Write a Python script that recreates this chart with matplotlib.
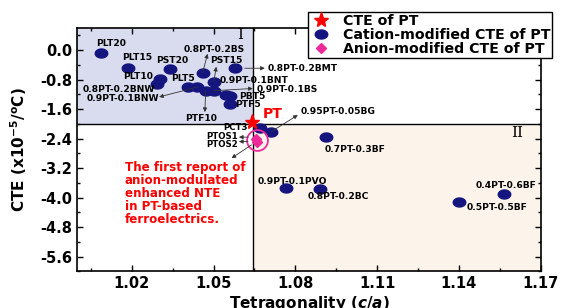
import numpy as np
import matplotlib.pyplot as plt
from matplotlib.path import Path
from matplotlib.patches import Rectangle

plt.rcParams['font.family'] = ['DejaVu Sans']
plt.rcParams['font.weight'] = 'bold'
plt.rcParams['mathtext.default'] = 'bf'

# data
pt_ca, pt_cte = 1.0640, -1.96
x_div, y_div = 1.0645, -2.0

cation_ca = [1.0087, 1.0187, 1.0342, 1.0460, 1.0580, 1.0303, 1.0291, 1.0405,
             1.0441, 1.0471, 1.0501, 1.0501, 1.0547, 1.0562, 1.0560,
             1.0672, 1.0712, 1.0914, 1.0764, 1.0890, 1.1567, 1.1402]
cation_cte = [-0.09, -0.49, -0.51, -0.61, -0.48, -0.77, -0.93, -1.01,
              -1.00, -1.10, -1.10, -0.855, -1.22, -1.24, -1.47,
              -2.12, -2.21, -2.36, -3.74, -3.77, -3.91, -4.13]
anion_ca = [1.0657, 1.0659]
anion_cte = [-2.41, -2.49]

# label text, x, y, alignment
labels = [
    ('PLT20', 1.0123, 0.17, 'center'),
    ('PLT15', 1.0218, -0.20, 'center'),
    ('PST20', 1.0347, -0.27, 'center'),
    ('PLT10', 1.0224, -0.72, 'center'),
    ('PLT5', 1.0387, -0.78, 'center'),
    ('0.8PT-0.2BNW', 1.0153, -1.06, 'center'),
    ('0.9PT-0.1BNW', 1.0166, -1.32, 'center'),
    ('0.8PT-0.2BS', 1.0501, 0.03, 'center'),
    ('PST15', 1.0545, -0.29, 'center'),
    ('PTF10', 1.0453, -1.85, 'center'),
    ('0.9PT-0.1BNT', 1.0522, -0.81, 'left'),
    ('0.9PT-0.1BS', 1.0657, -1.06, 'left'),
    ('PBT5', 1.0594, -1.26, 'left'),
    ('PTF5', 1.0578, -1.47, 'left'),
    ('0.8PT-0.2BMT', 1.0700, -0.49, 'left'),
    ('0.95PT-0.05BG', 1.0819, -1.67, 'left'),
    ('PCT3', 1.0625, -2.11, 'right'),
    ('PTOS1', 1.0588, -2.35, 'right'),
    ('PTOS2', 1.0589, -2.57, 'right'),
    ('0.7PT-0.3BF', 1.0908, -2.69, 'left'),
    ('0.9PT-0.1PVO', 1.0789, -3.55, 'center'),
    ('0.8PT-0.2BC', 1.0844, -3.97, 'left'),
    ('0.4PT-0.6BF', 1.1461, -3.68, 'left'),
    ('0.5PT-0.5BF', 1.1427, -4.26, 'left'),
]

# arrows: (start x, start y, end x, end y), head at the end
arrows = [
    (1.0460, -0.61, 1.0478, -0.10),
    (1.0501, -0.855, 1.0510, -0.45),
    (1.0471, -1.10, 1.0468, -1.68),
    (1.0441, -1.00, 1.0300, -1.27),
    (1.0501, -1.10, 1.0644, -1.04),
    (1.0614, -0.49, 1.0688, -0.49),
    (1.0712, -2.21, 1.0809, -1.76),
    (1.0626, -2.36, 1.0593, -2.36),
    (1.0626, -2.48, 1.0593, -2.48),
    (1.0639, -2.57, 1.0566, -2.93),
]

navy = '#15157f'
pink = '#ee2a9a'

fig = plt.figure(figsize=(5.62, 3.08), dpi=100)
ax = fig.add_axes([0.1375, 0.119, 0.8245, 0.790])
ax.set_xlim(1.0, 1.17)
ax.set_ylim(-6.0, 0.6)

# shaded quadrants
ax.add_patch(Rectangle((1.0, y_div), x_div - 1.0, 0.6 - y_div,
                       facecolor='#d9dcee', edgecolor='none', zorder=0))
ax.add_patch(Rectangle((x_div, -6.0), 1.17 - x_div, y_div + 6.0,
                       facecolor='#fcf3ea', edgecolor='none', zorder=0))
ax.axvline(x_div, color='black', lw=1.0, zorder=1)
ax.axhline(y_div, color='black', lw=1.0, zorder=1)

# elliptical dot marker
t = np.linspace(0, 2 * np.pi, 40)
ell = Path(np.column_stack([np.cos(t), 0.72 * np.sin(t)]), closed=True)

ax.plot(cation_ca, cation_cte, ls='none', marker=ell, ms=9, color=navy, zorder=3)
ax.plot(pt_ca, pt_cte, ls='none', marker='*', ms=11, color='red', zorder=4)
ax.plot(anion_ca, anion_cte, ls='none', marker='D', ms=5, color=pink, zorder=4)
ax.plot([np.mean(anion_ca)], [np.mean(anion_cte)], ls='none', marker='o', ms=15,
        mfc='none', mec=pink, mew=1.3, zorder=4)

for txt, tx, ty, ha in labels:
    fs = 6.2 if txt.startswith('PTOS') or txt == 'PCT3' else 6.6
    ax.text(tx, ty, txt, fontsize=fs, fontweight='bold', ha=ha, va='center', zorder=5)

for x0, y0, x1, y1 in arrows:
    ax.annotate('', xy=(x1, y1), xytext=(x0, y0),
                arrowprops=dict(arrowstyle='-|>', color='#333333', lw=0.6,
                                mutation_scale=6, shrinkA=0, shrinkB=0), zorder=5)

ax.text(1.068, -1.74, 'PT', color='red', fontsize=10, fontweight='bold', va='center')
ax.text(1.0175, -3.90, 'The first report of\nanion-modulated\nenhanced NTE\nin PT-based\nferroelectrics.',
        color='red', fontsize=8.6, fontweight='bold', va='center', ha='left', linespacing=1.0)

ax.text(1.0596, 0.41, 'I', family='DejaVu Serif', fontsize=11, fontweight='normal',
        ha='center', va='center')
ax.text(1.1615, -2.245, 'II', family='DejaVu Serif', fontsize=11, fontweight='normal',
        ha='center', va='center')

ax.set_xticks([1.02, 1.05, 1.08, 1.11, 1.14, 1.17])
ax.set_xticks(np.arange(1.005, 1.17, 0.015), minor=True)
ax.set_yticks([0.0, -0.8, -1.6, -2.4, -3.2, -4.0, -4.8, -5.6])
ax.set_yticks(np.arange(-6.0, 0.6, 0.4), minor=True)
ax.tick_params(which='both', direction='in', top=True, right=True, labelsize=10.5, width=1)
ax.tick_params(which='major', length=4)
ax.tick_params(which='minor', length=2)
ax.set_xticklabels(['1.02', '1.05', '1.08', '1.11', '1.14', '1.17'], fontweight='bold')
ax.set_yticklabels(['0.0', '-0.8', '-1.6', '-2.4', '-3.2', '-4.0', '-4.8', '-5.6'], fontweight='bold')
for s in ax.spines.values():
    s.set_linewidth(1.2)

ax.set_xlabel('Tetragonality ($\\mathit{c/a}$)', fontsize=11, fontweight='bold', labelpad=2)
ax.set_ylabel('CTE (x10$^{-5}$/$^o$C)', fontsize=11, fontweight='bold', labelpad=8)

h1, = ax.plot([], [], ls='none', marker='*', ms=11, color='red')
h2, = ax.plot([], [], ls='none', marker=ell, ms=9, color=navy)
h3, = ax.plot([], [], ls='none', marker='D', ms=5, color=pink)
leg = fig.legend([h1, h2, h3], ['CTE of PT', 'Cation-modified CTE of PT', 'Anion-modified CTE of PT'],
                 loc='upper left', bbox_to_anchor=(0.548, 0.962), prop={'weight': 'bold', 'size': 10.2},
                 frameon=True, fancybox=False, edgecolor='black', framealpha=1,
                 borderpad=0.15, labelspacing=0.0, handletextpad=0.8, handlelength=1.5,
                 borderaxespad=0)
leg.get_frame().set_linewidth(1.0)

fig.savefig('out.png', dpi=100)
